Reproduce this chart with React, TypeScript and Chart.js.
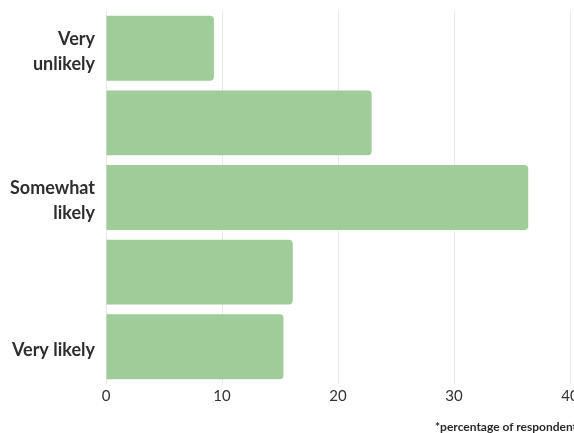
import React, { useEffect, useRef } from "react";
import { Chart, registerables } from "chart.js";

Chart.register(...registerables);

const categories: (string | string[])[] = [["Very", "unlikely"], "", ["Somewhat", "likely"], "", "Very likely"];
const percentages = [9.3, 22.9, 36.4, 16.1, 15.3];
const xTicks = [0, 10, 20, 30, 40];
const footnote = "*percentage of respondents";

export default function App() {
  const ref = useRef<HTMLCanvasElement>(null);
  useEffect(() => {
    if (!ref.current) return;
    const chart = new Chart(ref.current, {
      type: "bar",
      data: {
        labels: categories,
        datasets: [
          {
            data: percentages,
            backgroundColor: "#9fcc98",
            borderRadius: 4,
            borderSkipped: "start",
            categoryPercentage: 1,
            barPercentage: 0.87,
          },
        ],
      },
      options: {
        indexAxis: "y",
        animation: false,
        responsive: false,
        layout: { padding: { left: 0, right: 20, top: 11, bottom: 0 } },
        plugins: { legend: { display: false }, tooltip: { enabled: false } },
        scales: {
          x: {
            min: 0,
            max: 40,
            afterBuildTicks: (axis: any) => {
              axis.ticks = xTicks.map((v) => ({ value: v }));
            },
            afterFit: (axis: any) => {
              axis.paddingLeft = 0;
              axis.paddingRight = 0;
              axis.height = 27;
            },
            grid: { color: "#e8e8e8", drawTicks: false },
            border: { display: false },
            ticks: {
              color: "#333",
              padding: 3,
              font: { family: "Lato", size: 15 },
            },
          },
          y: {
            afterFit: (axis: any) => {
              axis.width = 106;
              axis.paddingTop = 0;
              axis.paddingBottom = 0;
            },
            grid: { display: false, drawTicks: false },
            border: { display: false },
            ticks: {
              color: "#2e2e2e",
              padding: 11,
              labelOffset: 3,
              font: { family: "Lato", size: 18, weight: "bold", lineHeight: 1.4 },
            },
          },
        },
      },
    });
    return () => chart.destroy();
  }, []);
  return (
    <div style={{ position: "fixed", left: 0, top: 0, width: 590, height: 433, overflow: "visible" }}>
      <canvas ref={ref} width={590} height={411} style={{ display: "block" }} />
      <div
        style={{
          position: "absolute",
          left: 435,
          top: 419,
          fontFamily: "Lato",
          fontSize: 12,
          fontWeight: 700,
          color: "#2a2a2a",
          whiteSpace: "nowrap",
        }}
      >
        {footnote}
      </div>
    </div>
  );
}
